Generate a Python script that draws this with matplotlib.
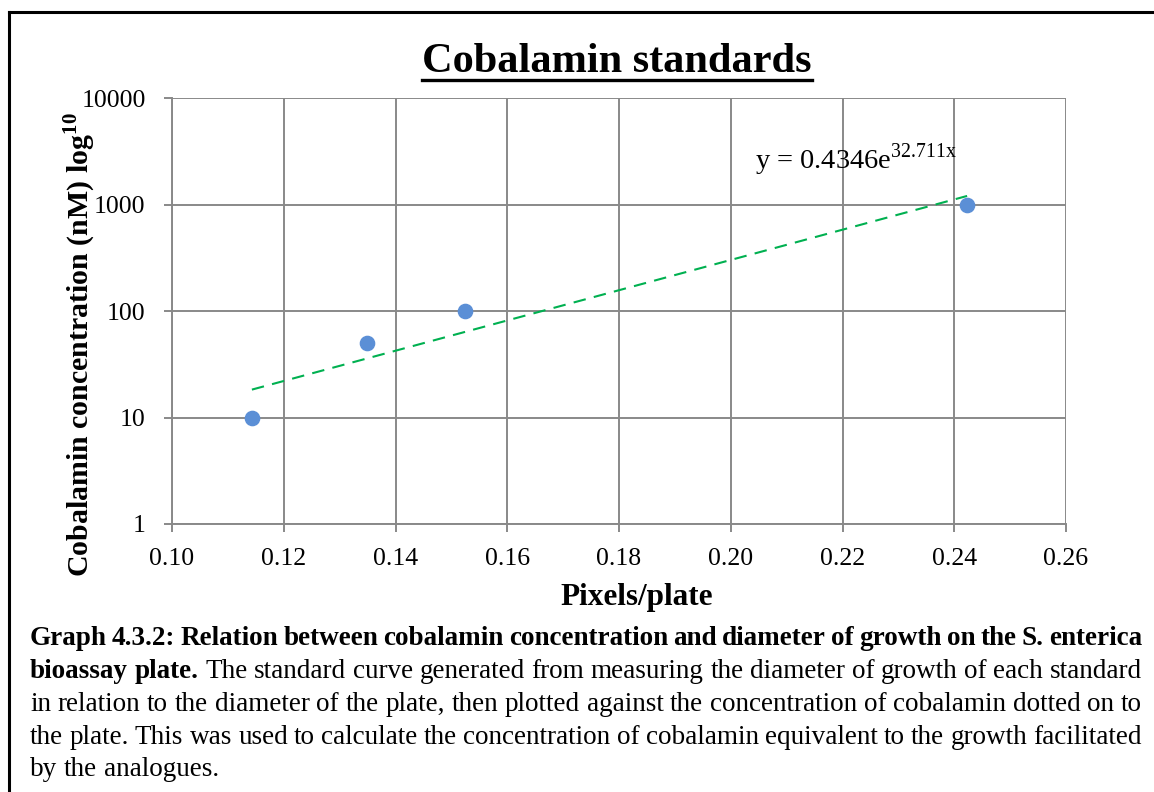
import matplotlib
matplotlib.use("Agg")
import matplotlib.pyplot as plt
from matplotlib.lines import Line2D
import numpy as np

plt.rcParams['font.family'] = ['Liberation Serif', 'DejaVu Serif']
plt.rcParams['mathtext.fontset'] = 'custom'
plt.rcParams['mathtext.rm'] = 'Liberation Serif'
plt.rcParams['mathtext.bf'] = 'Liberation Serif:bold'

# standards: pixels/plate vs cobalamin concentration (nM)
pixels = [0.1143, 0.1349, 0.1524, 0.2423]
conc = [10, 50, 100, 1000]

# exponential trendline y = a * exp(b * x)
fit_a = 0.4346
fit_b = 32.711

xticks = [0.10, 0.12, 0.14, 0.16, 0.18, 0.20, 0.22, 0.24, 0.26]
yticks = [1, 10, 100, 1000, 10000]

caption = [
    [("Graph 4.3.2: Relation between cobalamin concentration and diameter of growth on the S. enterica", True)],
    [("bioassay plate.", True), ("The standard curve generated from measuring the diameter of growth of each standard", False)],
    [("in relation to the diameter of the plate, then plotted against the concentration of cobalamin dotted on to", False)],
    [("the plate. This was used to calculate the concentration of cobalamin equivalent to the growth facilitated", False)],
    [("by the analogues.", False)],
]

W, H = 1154, 792
fig = plt.figure(figsize=(W / 100, H / 100), dpi=100)
ax = fig.add_axes([172 / W, 1 - 524 / H, (1066 - 172) / W, (524 - 98) / H])

grey = '#898989'
ax.set_yscale('log')
ax.set_xlim(0.10, 0.26)
ax.set_ylim(1, 10000)
ax.set_xticks(xticks)
ax.set_xticklabels(['%.2f' % t for t in xticks])
ax.set_yticks(yticks)
ax.set_yticklabels([str(t) for t in yticks])
ax.yaxis.set_minor_locator(matplotlib.ticker.NullLocator())
ax.grid(True, color=grey, linewidth=1.4)
ax.set_axisbelow(True)
for s in ax.spines.values():
    s.set_color(grey)
    s.set_linewidth(1.4)
ax.spines['top'].set_visible(False)
ax.spines['right'].set_visible(False)
ax.tick_params(axis='both', colors=grey, length=6, width=1.4, labelsize=18.5,
               labelcolor='black')
ax.tick_params(axis='x', pad=11)
ax.tick_params(axis='y', pad=13)

xs = np.linspace(min(pixels), max(pixels), 100)
ax.plot(xs, fit_a * np.exp(fit_b * xs), color='#00b050', linewidth=1.5,
        dashes=(6, 4), zorder=3)
ax.scatter(pixels, conc, s=105, color='#5b8fd6', zorder=4, clip_on=False)

fig.text(755 / W, 1 - 160 / H, 'y = %.4fe$^{\\mathrm{%.3fx}}$' % (fit_a, fit_b),
         fontsize=20.5, ha='left', va='center')

ttl = fig.text(617 / W, 1 - 62 / H, 'Cobalamin standards', fontsize=30.5,
               fontweight='bold', ha='center', va='center')
fig.text(637 / W, 1 - 598 / H, 'Pixels/plate', fontsize=22.5,
         fontweight='bold', ha='center', va='center')
fig.text(80 / W, 1 - 345 / H, 'Cobalamin concentration (nM) log$^{\\mathbf{10}}$',
         fontsize=21.5, fontweight='bold', rotation=90, ha='center', va='center')

# outer frame
fig.add_artist(Line2D([9 / W, 1.0], [1 - 12 / H] * 2, color='black', linewidth=2.2,
                      transform=fig.transFigure))
fig.add_artist(Line2D([9 / W] * 2, [0, 1 - 12 / H], color='black', linewidth=2.2,
                      transform=fig.transFigure))

fig.canvas.draw()
r = fig.canvas.get_renderer()

# underline the title
bb = ttl.get_window_extent(r)
fig.add_artist(Line2D([bb.x0 / W, bb.x1 / W], [1 - 80 / H] * 2, color='black',
                      linewidth=2.4, transform=fig.transFigure))

# justified caption
left, right = 30, 1142
baselines = [645, 678, 711, 744, 776]
fs = 19.5
for i, segs in enumerate(caption):
    words = []
    for txt, bold in segs:
        for w in txt.split(' '):
            words.append((w, bold))
    objs = []
    for w, bold in words:
        t = fig.text(0, 1 - baselines[i] / H, w, fontsize=fs,
                     fontweight='bold' if bold else 'normal',
                     ha='left', va='baseline')
        objs.append(t)
    widths = [t.get_window_extent(r).width for t in objs]
    if i < len(caption) - 1:
        gap = (right - left - sum(widths)) / (len(objs) - 1)
    else:
        gap = fs * 100 / 72 * 0.25
    x = left
    for t, wd in zip(objs, widths):
        t.set_x(x / W)
        x += wd + gap

fig.savefig('out.png', dpi=100)
